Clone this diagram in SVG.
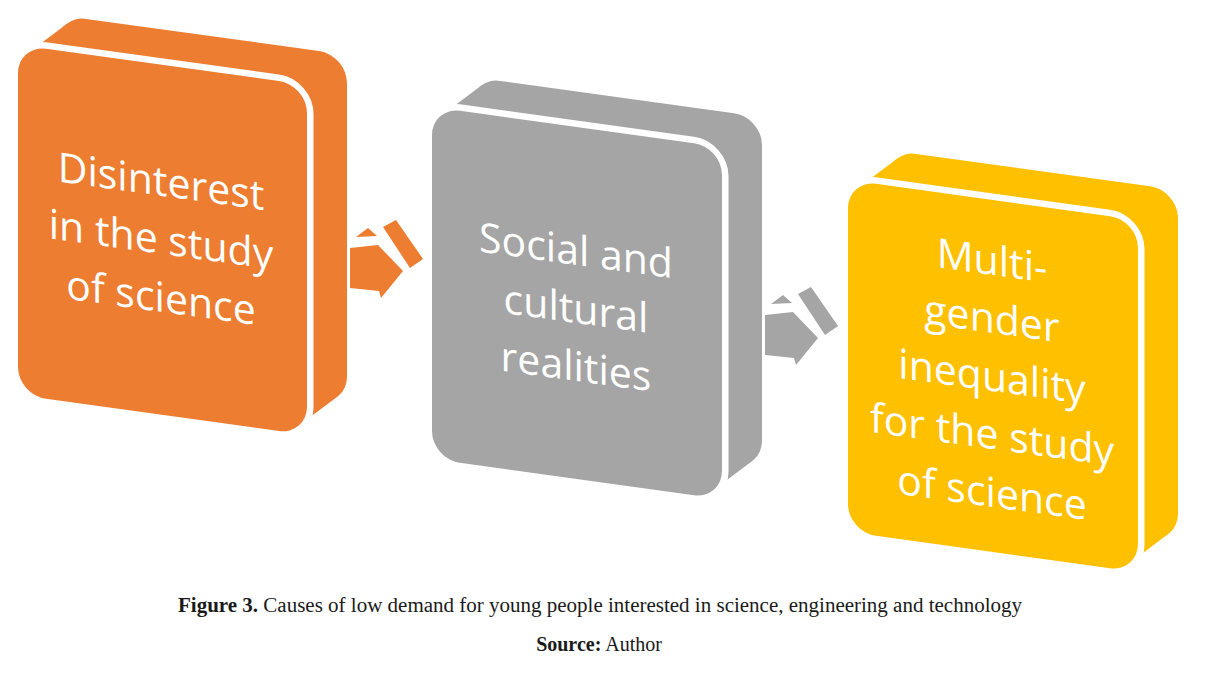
<svg xmlns="http://www.w3.org/2000/svg" width="1207" height="674" viewBox="0 0 1207 674">
<style>
.lbl{font-family:"Open Sans","Noto Sans",sans-serif;font-size:41px;fill:#fff;text-anchor:middle}
.gap{fill:#fff;stroke:#fff;stroke-width:13;stroke-linejoin:round}
.cap{font-family:"Liberation Serif","Times New Roman",serif;font-size:20px;fill:#1a1a1a;text-anchor:middle}
.o{fill:#ED7D31}.g{fill:#A5A5A5}.y{fill:#FFC000}
</style>
<defs>
  <rect id="face" x="0" y="0" width="289" height="350" rx="28"/>
  <rect id="face2" x="0" y="0" width="290" height="352" rx="28"/>
</defs>
<rect width="1207" height="674" fill="#fff"/>
<g id="node-disinterest" transform="translate(18,45) skewY(7.86)">
  <polygon class="o" points="9.4,7.1 49.4,-28.4 319.6,307.4 279.6,342.9"/>
  <rect class="o" x="40" y="-35.5" width="289" height="350" rx="28"/>
  <use href="#face" class="gap"/>
  <use href="#face" class="o"/>
  <text class="lbl"><tspan x="143" y="131">Disinterest</tspan><tspan x="143" y="189">in the study</tspan><tspan x="143" y="247">of science</tspan></text>
</g>
<g id="node-social" transform="translate(432,107) skewY(7.86)">
  <polygon class="g" points="9.4,7.1 49.4,-28.4 320.6,309.4 280.6,344.9"/>
  <rect class="g" x="40" y="-35.5" width="290" height="352" rx="28"/>
  <use href="#face2" class="gap"/>
  <use href="#face2" class="g"/>
  <text class="lbl"><tspan x="144" y="138">Social and</tspan><tspan x="144" y="196">cultural</tspan><tspan x="144" y="254">realities</tspan></text>
</g>
<g id="node-gender" transform="translate(848,180) skewY(7.86)">
  <polygon class="y" points="9.4,7.1 49.4,-28.4 320.6,309.4 280.6,344.9"/>
  <rect class="y" x="40" y="-35.5" width="290" height="352" rx="28"/>
  <use href="#face2" class="gap"/>
  <use href="#face2" class="y"/>
  <text class="lbl"><tspan x="144" y="75">Multi-</tspan><tspan x="144" y="133">gender</tspan><tspan x="144" y="191">inequality</tspan><tspan x="144" y="249">for the study</tspan><tspan x="144" y="307">of science</tspan></text>
</g>
<g id="connectors">
  <g id="arrow-1" class="o">
    <polygon points="356,237 368,228 377,236"/>
    <polygon points="383,227 396,220 423,259 410,268"/>
    <polygon points="350,248 378,245 403,271 381,298 379,291 350,288"/>
  </g>
  <g id="arrow-2" class="g" transform="translate(415,67)">
    <polygon points="356,237 368,228 377,236"/>
    <polygon points="383,227 396,220 423,259 410,268"/>
    <polygon points="350,248 378,245 403,271 381,298 379,291 350,288"/>
  </g>
</g>
<g id="caption">
  <text class="cap" x="600" y="612" textLength="844" lengthAdjust="spacingAndGlyphs"><tspan font-weight="bold">Figure 3.</tspan> Causes of low demand for young people interested in science, engineering and technology</text>
  <text class="cap" x="599" y="651"><tspan font-weight="bold">Source:</tspan> Author</text>
</g>
</svg>
